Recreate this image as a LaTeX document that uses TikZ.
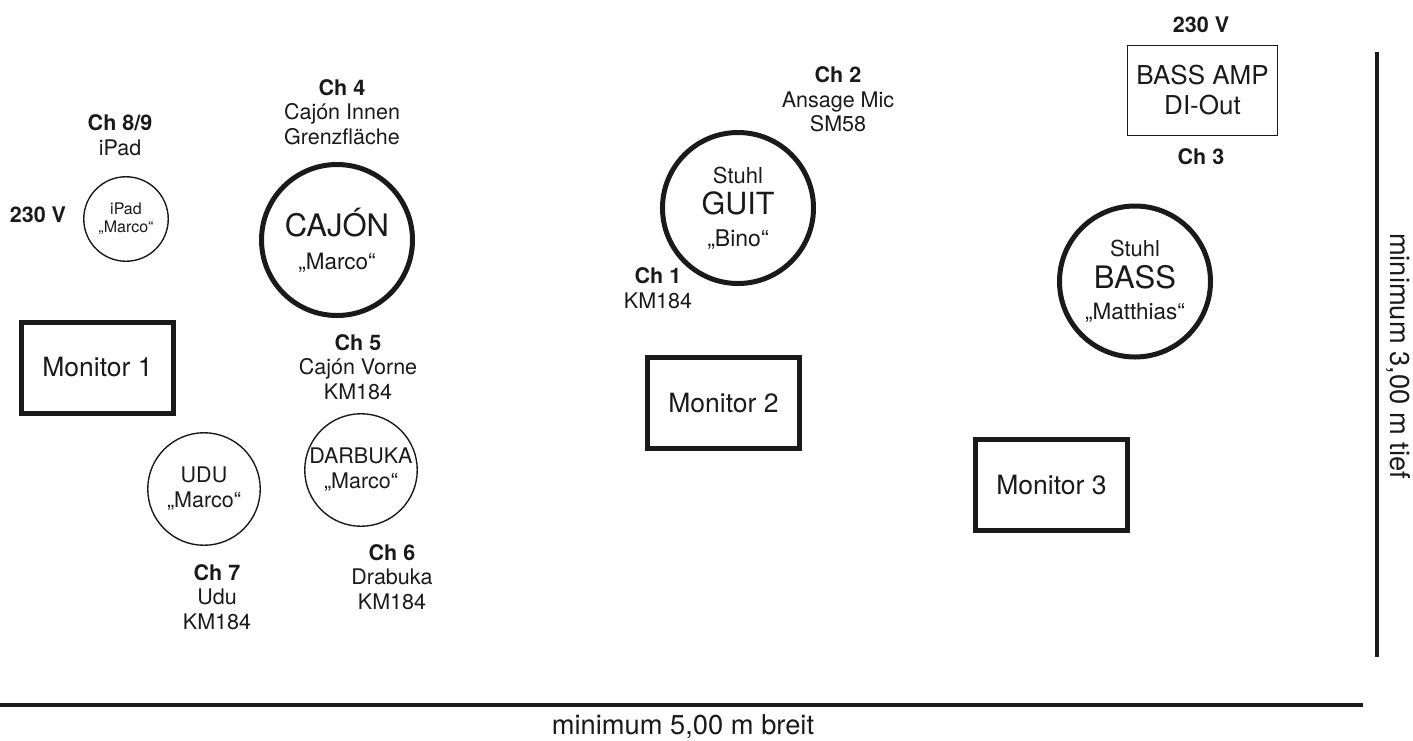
\documentclass[tikz,border=0pt]{standalone}
\usepackage{fontspec}
\setmainfont{TeX Gyre Heros}
\definecolor{ink}{HTML}{1A1A1A}
\newcommand\myfs[2]{\fontsize{#1pt}{#2pt}\selectfont}
\tikzset{
  lbl/.style={align=center, inner sep=0pt, text=ink, font=\myfs{21.5}{24.5}},
  boldlbl/.style={lbl, font=\bfseries\myfs{21.5}{24.5}},
  thickbox/.style={draw=ink, line width=5pt, rectangle, minimum width=152pt, minimum height=91pt, inner sep=0pt, text=ink, font=\myfs{26.5}{30}},
  thinbox/.style={draw=ink, line width=1.4pt, rectangle, minimum width=149.5pt, minimum height=89.5pt, inner sep=0pt, align=center, text=ink, font=\myfs{26}{30}},
  thickcircle/.style={draw=ink, line width=5pt, circle, minimum size=151pt, inner sep=0pt, align=center, text=ink},
  thincircle/.style={draw=ink, line width=1.4pt, circle, inner sep=0pt, align=center, text=ink},
  dimline/.style={draw=ink, line width=4pt},
  dimtext/.style={inner sep=0pt, text=ink, font=\myfs{27.3}{30}}
}
\begin{document}
\begin{tikzpicture}[x=1pt, y=-1pt]
\useasboundingbox (0,0) rectangle (1413,740);

% left group
\node[boldlbl] (pwrL) at (38,215) {230 V};
\node[lbl] (ipadlbl) at (120,135) {\textbf{Ch 8/9}\\iPad};
\node[thincircle, minimum size=84.5pt, font=\myfs{16}{18}] (ipad) at (126,219) {iPad\\„Marco“};

\node[lbl] (ch4) at (342,112) {\textbf{Ch 4}\\Cajón Innen\\Grenzfläche};
\node[thickcircle, font=\myfs{31}{33}] (cajon) at (337,240) {CAJÓN\\{\myfs{22.5}{33}„Marco“}};

\node[thickbox] (mon1) at (97.5,367.5) {Monitor 1};

\node[lbl] (ch5) at (358,367) {\textbf{Ch 5}\\Cajón Vorne\\KM184};
\node[thincircle, minimum size=112.5pt, font=\myfs{21.5}{25}] (udu) at (204,489) {UDU\\„Marco“};
\node[thincircle, minimum size=112.5pt, font=\myfs{21.5}{25}] (darbuka) at (361,470) {DARBUKA\\„Marco“};
\node[lbl] (ch6) at (392,577) {\textbf{Ch 6}\\Drabuka\\KM184};
\node[lbl] (ch7) at (217,597) {\textbf{Ch 7}\\Udu\\KM184};

% guitar
\node[thickcircle, font=\myfs{22}{31.5}] (guit) at (738,208) {Stuhl\\{\myfs{30.5}{31.5}GUIT}\\{\myfs{23}{31.5}„Bino“}};
\node[lbl] (ch2) at (838,99.5) {\textbf{Ch 2}\\Ansage Mic\\SM58};
\node[lbl] (ch1) at (658,288) {\textbf{Ch 1}\\KM184};
\node[thickbox] (mon2) at (723.5,403) {Monitor 2};

% bass
\node[boldlbl] (pwrR) at (1201,25) {230 V};
\node[thinbox] (amp) at (1202.5,90.5) {BASS AMP\\DI-Out};
\node[boldlbl] (ch3) at (1201,157) {Ch 3};
\node[thickcircle, font=\myfs{22}{31.5}] (bass) at (1135,281.5) {Stuhl\\{\myfs{31}{31.5}BASS}\\{\myfs{22.5}{31.5}„Matthias“}};
\node[thickbox] (mon3) at (1051.5,485) {Monitor 3};

% dimensions
\coordinate (dimVtop) at (1377,52);
\coordinate (dimVbot) at (1377,657);
\draw[dimline] (dimVtop) -- (dimVbot);
\node[dimtext, rotate=-90] (tief) at (1398,356) {minimum 3,00 m tief};
\coordinate (dimHl) at (0,705);
\coordinate (dimHr) at (1363,705);
\draw[dimline] (dimHl) -- (dimHr);
\node[dimtext] (breit) at (683,727) {minimum 5,00 m breit};
\end{tikzpicture}
\end{document}
